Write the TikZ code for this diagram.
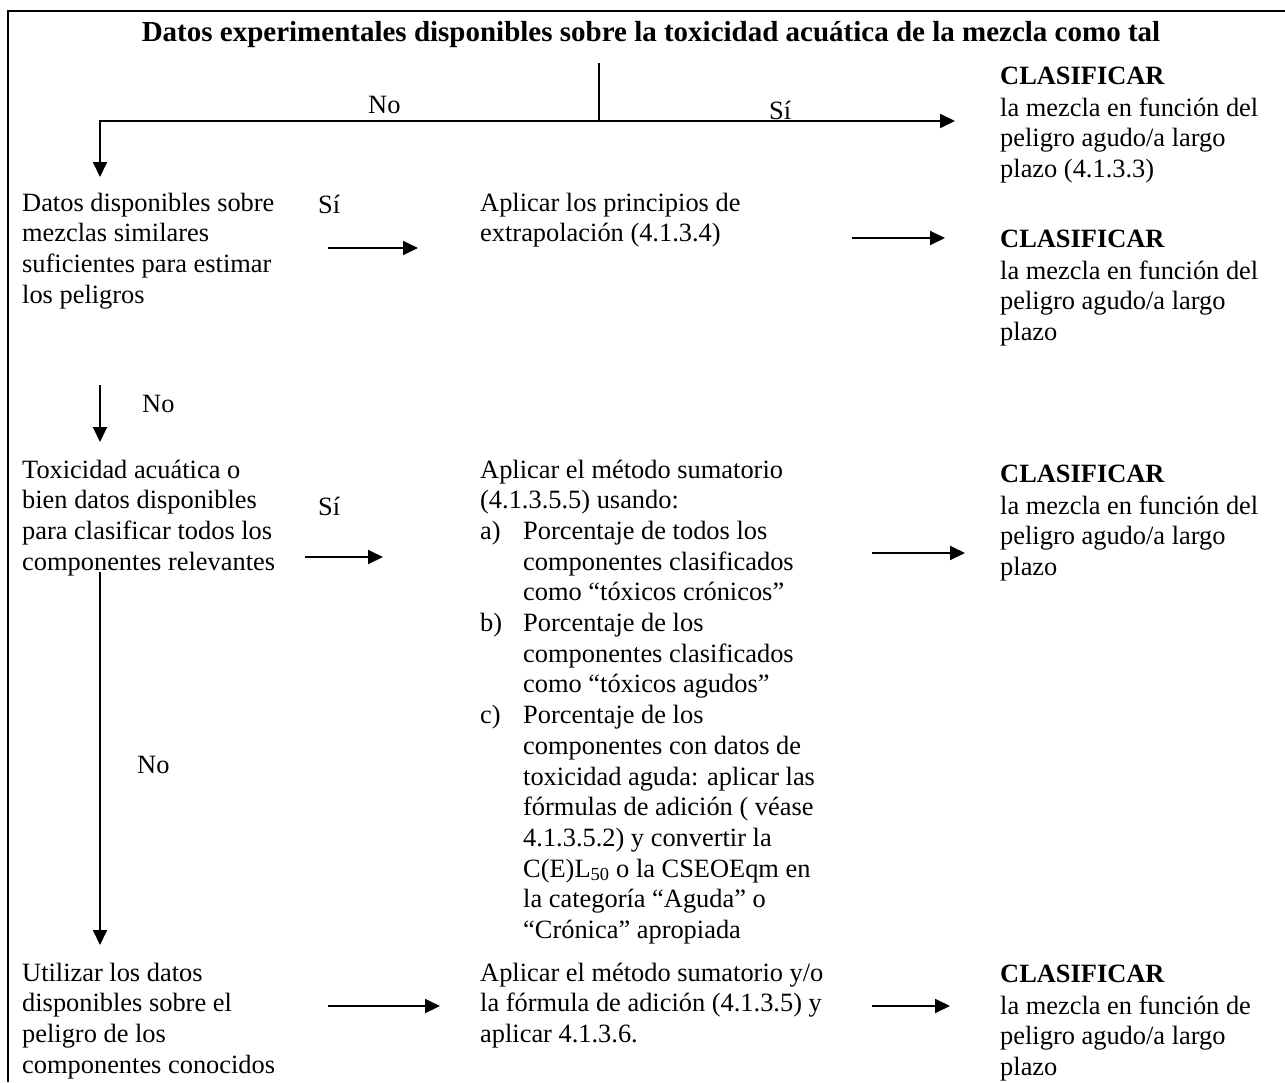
\documentclass[tikz,border=0pt]{standalone}
\usepackage{fontspec}
\setmainfont{Liberation Serif}
\usetikzlibrary{arrows.meta}
\newcommand{\lns}[1]{\begin{tabular}[t]{@{}l@{}}#1\end{tabular}}
\newcommand{\clas}{\textbf{CLASIFICAR}\\[1.3pt]}
\begin{document}
\begin{tikzpicture}[x=1pt,y=-1pt,
  txt/.style={anchor=base west, inner sep=0pt, font=\fontsize{26.4}{30.7}\selectfont},
  conn/.style={line width=1.9pt},
  arr/.style={conn,-{Triangle[length=15pt,width=14pt]}}]
\useasboundingbox (0,0) rectangle (1285,1082);
\draw[line width=2.2pt, line join=miter] (8,1082) -- (8,11) -- (1285,11);

% title
\node[anchor=base, inner sep=0pt, font=\bfseries\fontsize{29}{34}\selectfont] (title) at (651,41)
  {Datos experimentales disponibles sobre la toxicidad acuática de la mezcla como tal};

% first split
\coordinate (stemtop) at (599,63);
\coordinate (split) at (599,121);
\coordinate (lc) at (100,121);
\coordinate (rc) at (955,121);
\coordinate (d1) at (100,177);
\draw[conn] (stemtop) -- (split);
\draw[arr] (split) -- (rc);
\draw[arr] (split) -- (lc) -- (d1);
\node[txt] (no1) at (368,113) {No};
\node[txt] (si1) at (769,119) {Sí};

\node[txt] (c1) at (1000,84) {\lns{\clas la mezcla en función del\\ peligro agudo/a largo\\ plazo (4.1.3.3)}};

% row 2
\node[txt] (q2) at (22,211) {\lns{Datos disponibles sobre\\ mezclas similares\\ suficientes para estimar\\ los peligros}};
\node[txt] (si2) at (318,213) {Sí};
\coordinate (a2s) at (328,248);
\coordinate (a2e) at (418,248);
\draw[arr] (a2s) -- (a2e);
\node[txt] (m2) at (480,211) {\lns{Aplicar los principios de\\ extrapolación (4.1.3.4)}};
\coordinate (b2s) at (852,238);
\coordinate (b2e) at (945,238);
\draw[arr] (b2s) -- (b2e);
\node[txt] (c2) at (1000,247) {\lns{\clas la mezcla en función del\\ peligro agudo/a largo\\ plazo}};

% down 2->3
\coordinate (d2s) at (100,385);
\coordinate (d2e) at (100,442);
\draw[arr] (d2s) -- (d2e);
\node[txt] (no2) at (142,412) {No};

% row 3
\node[txt] (q3) at (22,478) {\lns{Toxicidad acuática o\\ bien datos disponibles\\ para clasificar todos los\\ componentes relevantes}};
\node[txt] (si3) at (318,515) {Sí};
\coordinate (a3s) at (305,557);
\coordinate (a3e) at (383,557);
\draw[arr] (a3s) -- (a3e);
\node[txt] (m3) at (480,478) {\begin{tabular}[t]{@{}p{43pt}@{}l@{}}
\multicolumn{2}{@{}l@{}}{Aplicar el método sumatorio}\\
\multicolumn{2}{@{}l@{}}{(4.1.3.5.5) usando:}\\
a) & Porcentaje de todos los\\
   & componentes clasificados\\
   & como “tóxicos crónicos”\\
b) & Porcentaje de los\\
   & componentes clasificados\\
   & como “tóxicos agudos”\\
c) & Porcentaje de los\\
   & componentes con datos de\\
   & toxicidad aguda: aplicar las\\
   & fórmulas de adición ( véase\\
   & 4.1.3.5.2) y convertir la\\
   & C(E)L\textsubscript{50} o la CSEOEqm en\\
   & la categoría “Aguda” o\\
   & “Crónica” apropiada
\end{tabular}};
\coordinate (b3s) at (872,553);
\coordinate (b3e) at (965,553);
\draw[arr] (b3s) -- (b3e);
\node[txt] (c3) at (1000,482) {\lns{\clas la mezcla en función del\\ peligro agudo/a largo\\ plazo}};

% long down 3->4
\coordinate (d3s) at (100,572);
\coordinate (d3e) at (100,945);
\draw[arr] (d3s) -- (d3e);
\node[txt] (no3) at (137,773) {No};

% row 4
\node[txt] (q4) at (22,981) {\lns{Utilizar los datos\\ disponibles sobre el\\ peligro de los\\ componentes conocidos}};
\coordinate (a4s) at (328,1006);
\coordinate (a4e) at (440,1006);
\draw[arr] (a4s) -- (a4e);
\node[txt] (m4) at (480,981) {\lns{Aplicar el método sumatorio y/o\\ la fórmula de adición (4.1.3.5) y\\ aplicar 4.1.3.6.}};
\coordinate (b4s) at (872,1006);
\coordinate (b4e) at (950,1006);
\draw[arr] (b4s) -- (b4e);
\node[txt] (c4) at (1000,982) {\lns{\clas la mezcla en función de\\ peligro agudo/a largo\\ plazo}};
\end{tikzpicture}
\end{document}
